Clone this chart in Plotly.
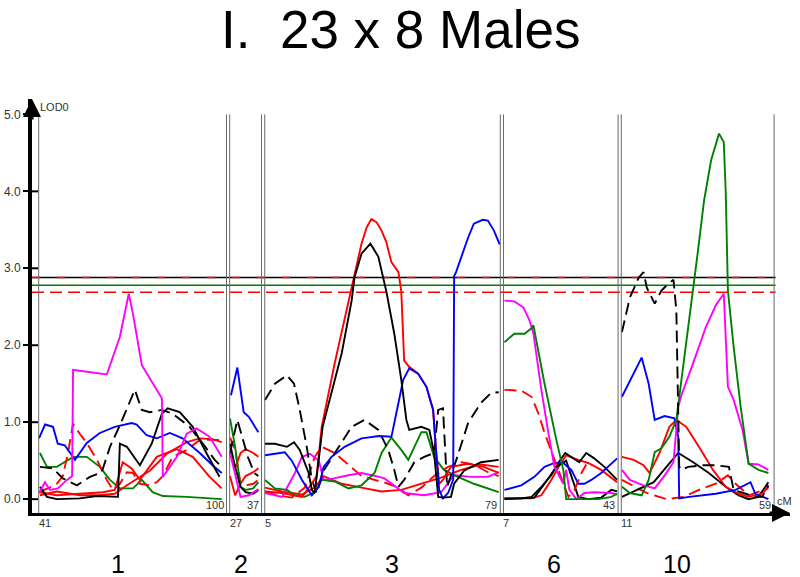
import plotly.graph_objects as go

# ---------------- data ----------------
CHROMS = ["1", "2", "3", "6", "10"]
CHR_START = [41, 27, 5, 7, 11]      # cM, first marker shown
CHR_END = [100, 37, 79, 43, 59]     # cM, last marker shown
GAP = 1.0                            # gap between chromosome panels (cM units)

THRESH_BLACK = 2.88
THRESH_GREEN = 2.78
THRESH_RED = 2.69

# Chromosome 1
c1_mag_cm = [41.1, 43.0, 44.5, 47.0, 49.9, 51.5, 51.8, 62.4, 66.5, 69.3, 70.6, 73.4, 79.7, 80.0, 84.4, 87.5, 90.6, 94.7, 98.5]
c1_mag = [0.08, 0.22, 0.12, 0.14, 0.25, 0.30, 1.68, 1.62, 2.11, 2.67, 2.41, 1.74, 1.31, 0.29, 0.55, 0.85, 0.92, 0.81, 0.55]
c1_blue_cm = [41.1, 43.0, 45.5, 47.0, 49.2, 52.4, 56.1, 60.2, 64.9, 67.1, 70.2, 71.8, 74.9, 78.1, 82.2, 86.2, 91.6, 95.6, 98.5]
c1_blue = [0.79, 0.97, 0.94, 0.72, 0.70, 0.51, 0.73, 0.86, 0.94, 0.96, 0.99, 0.97, 0.83, 0.79, 0.86, 0.79, 0.60, 0.44, 0.34]
c1_blkd_cm = [41.4, 45.5, 48.6, 53.0, 57.1, 60.8, 63.4, 66.5, 71.2, 73.4, 75.9, 79.7, 83.1, 88.4, 92.6, 96.3, 98.5]
c1_blkd = [0.42, 0.40, 0.27, 0.18, 0.29, 0.35, 0.68, 0.96, 1.42, 1.16, 1.13, 1.16, 1.11, 0.94, 0.72, 0.51, 0.42]
c1_blk_cm = [41.4, 43.6, 46.7, 53.9, 59.3, 65.9, 66.5, 68.7, 72.8, 76.5, 79.7, 81.5, 85.3, 89.4, 93.8, 97.8]
c1_blk = [0.16, 0.03, 0.00, 0.01, 0.04, 0.03, 0.72, 0.68, 0.44, 0.72, 1.11, 1.18, 1.13, 0.94, 0.59, 0.29]
c1_redd_cm = [41.4, 44.5, 46.7, 48.6, 50.2, 51.8, 53.9, 56.1, 59.3, 62.4, 64.3, 66.5, 68.7, 70.6, 72.8, 75.9, 78.1, 80.0, 83.1, 87.5, 91.6, 97.8]
c1_redd = [0.10, 0.15, 0.20, 0.30, 0.60, 0.98, 0.85, 0.73, 0.51, 0.25, 0.12, 0.20, 0.35, 0.34, 0.20, 0.18, 0.22, 0.30, 0.55, 0.64, 0.77, 0.77]
c1_redA_cm = [41.4, 46.7, 53.9, 61.2, 64.9, 67.4, 70.2, 72.8, 78.1, 84.4, 89.4, 94.7, 98.5]
c1_redA = [0.09, 0.05, 0.07, 0.09, 0.12, 0.48, 0.40, 0.25, 0.55, 0.65, 0.55, 0.29, 0.14]
c1_redB_cm = [41.4, 46.7, 53.9, 60.2, 64.9, 68.7, 75.9, 81.2, 87.5, 91.6, 95.6, 98.5]
c1_redB = [0.05, 0.10, 0.05, 0.05, 0.07, 0.18, 0.37, 0.59, 0.74, 0.79, 0.78, 0.74]
c1_grn_cm = [41.4, 43.6, 46.7, 51.8, 56.1, 60.2, 63.4, 66.5, 70.6, 73.4, 76.8, 80.0, 87.5, 93.8, 98.5]
c1_grn = [0.60, 0.42, 0.42, 0.55, 0.55, 0.42, 0.25, 0.14, 0.14, 0.25, 0.09, 0.04, 0.03, 0.01, 0.00]

# Chromosome 2
c2_cm = [27.1, 28.7, 30.4, 32.0, 34.4, 36.0]
c2_blue_cm = [27.4, 29.4, 31.4, 33.0, 36.0]
c2_blue = [1.35, 1.71, 1.13, 1.07, 0.87]
c2_blkd_cm = [27.1, 29.4, 32.7, 34.7, 36.0]
c2_blkd = [0.60, 1.03, 0.55, 0.34, 0.30]
c2_grn = [1.05, 0.68, 0.16, 0.12, 0.14, 0.22]
c2_blk = [0.72, 0.42, 0.16, 0.09, 0.07, 0.12]
c2_redA = [0.60, 0.40, 0.60, 0.65, 0.60, 0.55]
c2_redB = [0.30, 0.05, 0.20, 0.30, 0.35, 0.40]
c2_redd = [0.80, 0.65, 0.20, 0.18, 0.20, 0.25]
c2_mag_cm = [27.1, 30.4, 33.0, 36.0]
c2_mag = [0.60, 0.03, 0.05, 0.13]

# Chromosome 3
c3_red_cm = [5.1, 10.4, 16.7, 19.8, 21.3, 22.9, 27.0, 30.7, 33.2, 35.4, 37.0, 38.5, 40.1, 41.7, 43.2, 44.8, 47.0, 47.9, 48.8, 50.4, 53.2, 55.8, 57.9, 58.8, 59.8, 61.0, 63.5, 68.9, 73.8, 78.5]
c3_red = [0.10, 0.08, 0.03, 0.20, 0.30, 0.94, 1.77, 2.45, 2.88, 3.32, 3.53, 3.64, 3.60, 3.49, 3.34, 3.08, 2.95, 2.70, 1.80, 1.72, 1.63, 1.46, 1.16, 0.64, 0.20, 0.25, 0.42, 0.46, 0.42, 0.34]
c3_blk_cm = [5.1, 8.2, 12.0, 14.2, 16.0, 18.8, 19.8, 20.7, 23.2, 29.2, 32.3, 33.2, 35.4, 38.2, 40.7, 42.3, 43.2, 45.7, 47.9, 49.5, 50.4, 54.2, 56.7, 58.2, 59.5, 61.0, 63.5, 64.5, 67.6, 72.9, 78.5]
c3_blk = [0.72, 0.72, 0.68, 0.74, 0.64, 0.34, 0.12, 0.08, 0.94, 1.90, 2.58, 2.88, 3.19, 3.32, 3.15, 2.88, 2.70, 2.15, 1.55, 1.03, 0.90, 0.94, 0.90, 0.60, 0.03, 0.02, 0.03, 0.20, 0.37, 0.48, 0.51]
c3_blkd_cm = [5.1, 8.2, 12.0, 14.2, 16.0, 18.2, 19.8, 21.3, 23.5, 28.2, 32.3, 36.3, 39.5, 40.7, 43.8, 45.7, 47.0, 48.8, 52.0, 55.1, 58.2, 59.5, 61.0, 62.3, 65.1, 68.9, 72.9, 76.1, 78.5]
c3_blkd = [1.29, 1.50, 1.61, 1.50, 1.16, 0.68, 0.25, 0.08, 0.37, 0.68, 0.94, 1.03, 0.94, 0.90, 0.64, 0.38, 0.16, 0.25, 0.48, 0.55, 0.60, 1.16, 1.18, 0.16, 0.50, 0.99, 1.25, 1.38, 1.39]
c3_blue_cm = [5.1, 11.3, 13.5, 16.7, 19.8, 22.0, 23.5, 26.0, 30.1, 35.4, 41.0, 44.8, 46.3, 48.5, 50.4, 53.2, 55.8, 57.9, 58.8, 59.8, 61.0, 62.6, 64.2, 64.5, 65.1, 66.7, 68.9, 70.7, 73.5, 75.1, 77.0, 78.8]
c3_blue = [0.57, 0.61, 0.50, 0.25, 0.05, 0.16, 0.42, 0.55, 0.68, 0.79, 0.82, 0.81, 1.11, 1.55, 1.70, 1.63, 1.46, 1.16, 0.64, 0.12, 0.01, 0.08, 0.25, 2.90, 2.95, 3.15, 3.40, 3.58, 3.63, 3.62, 3.49, 3.31]
c3_grn_cm = [5.1, 8.2, 12.0, 14.5, 17.6, 20.7, 22.9, 27.0, 31.3, 35.4, 39.5, 41.7, 44.8, 47.9, 50.1, 54.2, 55.8, 58.2, 61.3, 65.7, 70.7, 78.5]
c3_grn = [0.25, 0.14, 0.12, 0.05, 0.03, 0.09, 0.25, 0.23, 0.14, 0.18, 0.34, 0.60, 0.80, 0.64, 0.51, 0.87, 0.87, 0.55, 0.38, 0.29, 0.20, 0.09]
c3_mag_cm = [5.1, 10.4, 14.5, 16.7, 19.2, 22.0, 23.5, 26.7, 31.3, 35.4, 41.0, 42.6, 48.8, 55.1, 60.4, 64.5, 69.8, 75.1, 78.5]
c3_mag = [0.08, 0.03, 0.34, 0.55, 0.59, 0.50, 0.25, 0.27, 0.31, 0.34, 0.29, 0.27, 0.08, 0.05, 0.09, 0.31, 0.29, 0.29, 0.35]
c3_redd_cm = [5.1, 8.8, 13.5, 17.6, 20.7, 22.9, 27.0, 31.3, 35.4, 39.5, 43.8, 47.0, 50.1, 54.2, 58.2, 62.6, 66.7, 70.7, 75.1, 78.5]
c3_redd = [0.10, 0.05, 0.02, 0.15, 0.55, 0.68, 0.60, 0.45, 0.30, 0.25, 0.20, 0.15, 0.05, 0.15, 0.30, 0.42, 0.48, 0.45, 0.35, 0.30]
c3_redB_cm = [5.1, 10.4, 16.7, 20.7, 23.5, 29.2, 35.4, 41.7, 47.9, 54.2, 60.4, 66.7, 72.9, 78.5]
c3_redB = [0.15, 0.10, 0.06, 0.15, 0.30, 0.20, 0.15, 0.10, 0.12, 0.20, 0.28, 0.38, 0.45, 0.42]

# Chromosome 6
c6_mag_cm = [7.3, 10.4, 13.3, 15.2, 16.4, 18.9, 21.1, 23.0, 25.8, 26.7, 27.7, 29.9, 32.4, 35.5, 40.9, 42.7]
c6_mag = [2.58, 2.57, 2.49, 2.32, 2.15, 1.42, 0.86, 0.42, 0.20, 0.38, 0.12, 0.00, 0.08, 0.09, 0.08, 0.06]
c6_grn_cm = [7.3, 10.4, 13.6, 15.8, 16.4, 19.9, 23.6, 25.8, 26.7, 36.8, 40.9, 42.7]
c6_grn = [2.04, 2.15, 2.15, 2.22, 2.26, 1.50, 0.77, 0.38, 0.00, 0.00, 0.03, 0.07]
c6_redd_cm = [7.3, 12.6, 15.8, 18.0, 19.9, 22.7, 24.6, 26.1, 27.4, 29.3, 31.5, 33.0]
c6_redd = [1.42, 1.41, 1.33, 1.11, 0.86, 0.55, 0.34, 0.20, 0.03, 0.12, 0.34, 0.45]
c6_blue_cm = [7.3, 12.6, 16.7, 19.9, 23.0, 25.8, 28.3, 30.5, 32.4, 34.6, 37.7, 40.9, 42.7]
c6_blue = [0.12, 0.18, 0.29, 0.42, 0.47, 0.47, 0.38, 0.20, 0.20, 0.25, 0.34, 0.47, 0.53]
c6_blkA_cm = [7.3, 12.6, 15.8, 18.9, 22.0, 24.2, 26.4, 28.9, 30.8, 33.0, 35.5, 38.7, 41.8, 42.7]
c6_blkA = [0.01, 0.01, 0.03, 0.16, 0.31, 0.47, 0.60, 0.53, 0.48, 0.60, 0.53, 0.42, 0.29, 0.25]
c6_blkB_cm = [7.3, 16.7, 19.9, 23.6, 26.7, 28.3, 30.5, 33.6, 37.7, 40.9, 42.7]
c6_blkB = [0.00, 0.02, 0.20, 0.42, 0.50, 0.29, 0.03, 0.00, 0.02, 0.12, 0.10]
c6_red_cm = [7.3, 15.8, 18.9, 22.0, 24.6, 26.7, 30.5, 33.6, 37.7, 41.8, 42.7]
c6_red = [0.01, 0.01, 0.05, 0.25, 0.44, 0.57, 0.51, 0.47, 0.38, 0.25, 0.22]

# Chromosome 10
c10_grn_cm = [11.2, 13.7, 17.4, 19.6, 21.5, 23.6, 26.1, 28.3, 29.9, 32.0, 33.6, 35.1, 37.0, 39.2, 41.7, 43.2, 43.8, 44.1, 44.5, 46.3, 48.5, 51.0, 54.1, 57.2]
c10_grn = [0.16, 0.08, 0.05, 0.25, 0.61, 0.66, 0.81, 1.03, 1.55, 2.20, 2.75, 3.23, 3.88, 4.40, 4.75, 4.64, 4.01, 3.47, 2.71, 1.98, 1.20, 0.46, 0.38, 0.34]
c10_mag_cm = [11.2, 13.7, 18.0, 21.5, 24.3, 27.4, 28.9, 29.9, 33.6, 37.6, 40.7, 43.2, 44.5, 46.3, 49.1, 51.0, 54.1, 57.2]
c10_mag = [0.38, 0.25, 0.18, 0.14, 0.29, 0.48, 1.20, 1.35, 1.77, 2.24, 2.52, 2.67, 1.46, 1.29, 0.90, 0.46, 0.45, 0.38]
c10_blue_cm = [11.2, 14.3, 17.4, 19.6, 21.5, 24.6, 27.7, 28.9, 29.2, 32.3, 40.7, 46.9, 51.6, 53.1, 57.2]
c10_blue = [1.33, 1.58, 1.84, 1.50, 1.03, 1.08, 1.05, 0.81, 0.01, 0.03, 0.07, 0.12, 0.22, 0.07, 0.00]
c10_blkd_cm = [11.2, 13.7, 16.5, 18.0, 19.0, 21.5, 23.6, 25.8, 27.4, 28.3, 29.2, 29.9, 32.0, 36.7, 40.7, 44.8, 46.3, 49.1, 53.1, 55.3, 57.2]
c10_blkd = [2.17, 2.62, 2.88, 2.95, 2.75, 2.54, 2.71, 2.80, 2.85, 2.45, 0.42, 0.38, 0.42, 0.44, 0.44, 0.42, 0.12, 0.08, 0.03, 0.03, 0.18]
c10_blk_cm = [11.2, 15.9, 21.2, 25.2, 28.9, 33.6, 38.5, 43.8, 47.9, 51.0, 54.1, 57.2]
c10_blk = [0.03, 0.12, 0.22, 0.42, 0.60, 0.48, 0.34, 0.16, 0.05, 0.00, 0.03, 0.22]
c10_red_cm = [11.2, 14.9, 18.0, 19.9, 23.0, 26.1, 28.3, 31.4, 35.4, 39.8, 43.8, 47.9, 51.0, 55.3, 57.2]
c10_red = [0.55, 0.51, 0.44, 0.34, 0.60, 0.94, 1.03, 0.94, 0.68, 0.38, 0.16, 0.07, 0.03, 0.07, 0.16]
c10_redd_cm = [11.2, 19.0, 25.2, 30.5, 35.4, 40.7, 44.5, 46.9, 51.0, 57.2]
c10_redd = [0.25, 0.08, 0.00, 0.03, 0.12, 0.20, 0.31, 0.20, 0.05, 0.14]

# ---------------- styling ----------------
BLACK, RED, GREEN, BLUE, MAG = "#000000", "#ff0000", "#008000", "#0000ff", "#ff00ff"
DASH = "12px,6px"
FONT = "Arial, Liberation Sans, sans-serif"

# (chromosome index, colour, dash, positions, lods)
series = [
    (0, GREEN, "solid", c1_grn_cm, c1_grn),
    (0, RED, "solid", c1_redB_cm, c1_redB),
    (0, RED, "solid", c1_redA_cm, c1_redA),
    (0, RED, DASH, c1_redd_cm, c1_redd),
    (0, BLUE, "solid", c1_blue_cm, c1_blue),
    (0, BLACK, "solid", c1_blk_cm, c1_blk),
    (0, BLACK, DASH, c1_blkd_cm, c1_blkd),
    (0, MAG, "solid", c1_mag_cm, c1_mag),
    (1, RED, "solid", c2_cm, c2_redB),
    (1, RED, "solid", c2_cm, c2_redA),
    (1, RED, DASH, c2_cm, c2_redd),
    (1, GREEN, "solid", c2_cm, c2_grn),
    (1, BLACK, "solid", c2_cm, c2_blk),
    (1, BLACK, DASH, c2_blkd_cm, c2_blkd),
    (1, MAG, "solid", c2_mag_cm, c2_mag),
    (1, BLUE, "solid", c2_blue_cm, c2_blue),
    (2, RED, "solid", c3_redB_cm, c3_redB),
    (2, RED, DASH, c3_redd_cm, c3_redd),
    (2, MAG, "solid", c3_mag_cm, c3_mag),
    (2, GREEN, "solid", c3_grn_cm, c3_grn),
    (2, BLACK, DASH, c3_blkd_cm, c3_blkd),
    (2, RED, "solid", c3_red_cm, c3_red),
    (2, BLUE, "solid", c3_blue_cm, c3_blue),
    (2, BLACK, "solid", c3_blk_cm, c3_blk),
    (3, RED, "solid", c6_red_cm, c6_red),
    (3, BLACK, "solid", c6_blkB_cm, c6_blkB),
    (3, BLACK, "solid", c6_blkA_cm, c6_blkA),
    (3, BLUE, "solid", c6_blue_cm, c6_blue),
    (3, RED, DASH, c6_redd_cm, c6_redd),
    (3, MAG, "solid", c6_mag_cm, c6_mag),
    (3, GREEN, "solid", c6_grn_cm, c6_grn),
    (4, RED, DASH, c10_redd_cm, c10_redd),
    (4, BLACK, "solid", c10_blk_cm, c10_blk),
    (4, RED, "solid", c10_red_cm, c10_red),
    (4, BLUE, "solid", c10_blue_cm, c10_blue),
    (4, MAG, "solid", c10_mag_cm, c10_mag),
    (4, GREEN, "solid", c10_grn_cm, c10_grn),
    (4, BLACK, DASH, c10_blkd_cm, c10_blkd),
]

# panel offsets on a continuous axis
offsets = []
pos = 0.0
for s, e in zip(CHR_START, CHR_END):
    offsets.append(pos)
    pos += (e - s) + GAP
X_END = offsets[-1] + CHR_END[-1] - CHR_START[-1]
X_MIN, X_MAX = -2.1, X_END + 5.0
Y_MIN, Y_MAX = -0.18, 5.2

fig = go.Figure()

# thresholds
for val, col, dash, w in [(THRESH_BLACK, BLACK, "solid", 1.5), (THRESH_BLACK, RED, "8px,17px", 1.5),
                          (THRESH_GREEN, GREEN, "solid", 1.5), (THRESH_RED, RED, "12px,6px", 1.5)]:
    fig.add_trace(go.Scatter(x=[X_MIN, X_END + 0.5], y=[val, val], mode="lines",
                             line=dict(color=col, width=w, dash=dash), hoverinfo="skip"))

for ci, col, dash, cm, lod in series:
    gx = [offsets[ci] + (c - CHR_START[ci]) for c in cm]
    fig.add_trace(go.Scatter(x=gx, y=lod, mode="lines",
                             line=dict(color=col, width=1.9, dash=dash)))

shapes = []
annotations = []
for i, (s, e) in enumerate(zip(CHR_START, CHR_END)):
    x0 = offsets[i]
    x1 = offsets[i] + (e - s)
    for xv in (x0, x1):
        shapes.append(dict(type="line", xref="x", yref="y", x0=xv, x1=xv, y0=Y_MIN, y1=5.0,
                           line=dict(color="#6a6a6a", width=1)))
    annotations.append(dict(x=x0, y=-0.024, xref="x", yref="paper", text=str(s), showarrow=False,
                            xanchor="left", yanchor="middle", xshift=-2,
                            font=dict(family=FONT, size=11, color="#333")))
    annotations.append(dict(x=x1, y=-0.08, xref="x", yref="y", text=str(e), showarrow=False,
                            xanchor="right", yanchor="middle", xshift=-1,
                            font=dict(family=FONT, size=11, color="#333")))

# chromosome names (pixel-read positions along axis)
name_pos = [24.9, 63.6, 111.0, 161.9, 200.5]
for nm, xp in zip(CHROMS, name_pos):
    annotations.append(dict(x=xp, y=-0.122, xref="x", yref="paper", text=nm, showarrow=False,
                            xanchor="center", yanchor="middle",
                            font=dict(family=FONT, size=25, color="#000")))

# y-axis tick crossings (inner part)
for t in range(6):
    shapes.append(dict(type="line", xref="paper", yref="y", x0=0, x1=0.008, y0=t, y1=t,
                       line=dict(color="#000", width=2)))

# axis arrows
annotations.append(dict(x=X_MIN, y=Y_MAX, xref="x", yref="y", ax=0, ay=22, text="",
                        showarrow=True, arrowhead=2, arrowsize=1.2, arrowwidth=3, arrowcolor="#000"))
annotations.append(dict(x=X_MAX, y=Y_MIN, xref="x", yref="y", ax=-22, ay=0, text="",
                        showarrow=True, arrowhead=2, arrowsize=1.2, arrowwidth=3, arrowcolor="#000"))
annotations.append(dict(x=0.008, y=5.1, xref="paper", yref="y", text="LOD0", showarrow=False,
                        xanchor="left", yanchor="middle", font=dict(family=FONT, size=11, color="#333")))
annotations.append(dict(x=X_END + 0.4, y=-0.02, xref="x", yref="y", text="cM", showarrow=False,
                        xanchor="left", yanchor="middle", font=dict(family=FONT, size=11, color="#333")))
annotations.append(dict(x=0.486, y=1.168, xref="paper", yref="paper", text="I.\u00a0 23 x 8 Males",
                        showarrow=False, xanchor="center", yanchor="middle",
                        font=dict(family=FONT, size=53, color="#000")))

fig.update_layout(
    width=800, height=577,
    margin=dict(l=32, r=10, t=99, b=64),
    paper_bgcolor="white", plot_bgcolor="white",
    showlegend=False,
    shapes=shapes, annotations=annotations,
    xaxis=dict(range=[X_MIN, X_MAX], showgrid=False, zeroline=False, showticklabels=False,
               ticks="", showline=True, linecolor="#000", linewidth=3, fixedrange=True,
               automargin=False),
    yaxis=dict(range=[Y_MIN, Y_MAX], showgrid=False, zeroline=False,
               tickvals=[0, 1, 2, 3, 4, 5], ticktext=["0.0", "1.0", "2.0", "3.0", "4.0", "5.0"],
               ticks="outside", ticklen=5, tickwidth=2, tickcolor="#000",
               tickfont=dict(family=FONT, size=12, color="#333"),
               showline=True, linecolor="#000", linewidth=4, fixedrange=True,
               automargin=False),
)

# remove the browser's default 8px page margin so the 800x577 figure fills the window
fig.write_html("out.html", config={"displayModeBar": False},
               post_script="document.body.style.margin='0';")
